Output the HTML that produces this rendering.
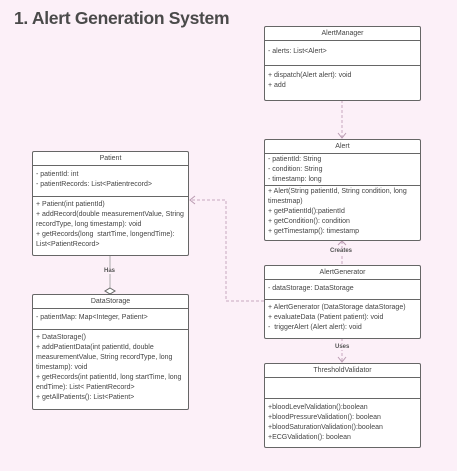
<!DOCTYPE html><html><head><style>
body{margin:0;width:457px;height:471px;background:#fcf0f8;font-family:"Liberation Sans",sans-serif;position:relative;overflow:hidden;color:#444}
.t{position:absolute;left:14px;top:8px;font-size:17.5px;font-weight:bold;color:#4a4a4a;letter-spacing:-0.3px}
.b{position:absolute;background:#fff;border:1px solid #666;border-radius:2px;box-sizing:border-box;font-size:7px;line-height:10px}
.h{text-align:center;border-bottom:1px solid #666;height:13px;line-height:13px}
.s{border-bottom:1px solid #666;padding:1px 3px;box-sizing:border-box}
.m{padding:2px 3px}
svg{position:absolute;left:0;top:0}
.l{position:absolute;font-size:6px;font-weight:bold;color:#555;background:#fcf0f8}
</style></head><body>
<div class="t">1. Alert Generation System</div>
<svg width="457" height="471">
<g stroke="#c8a9c0" fill="none" stroke-dasharray="3,2">
<path d="M342 100V138"/><path d="M342 241V265"/><path d="M342 338V362"/><path d="M264 301H226V200H190"/>
</g>
<g stroke="#b99ab0" fill="none">
<path d="M338 133L342 138L346 133"/><path d="M338 245L342 241L346 245"/><path d="M338 357L342 362L346 357"/><path d="M195 196L190 200L195 204"/>
<path d="M110 256V288" stroke="#aaa"/><path d="M110 288L115 291L110 294L105 291Z" stroke="#666" fill="#fff"/>
</g>
</svg>
<div class="l" style="left:330px;top:248px">Creates</div>
<div class="l" style="left:335px;top:344px">Uses</div>
<div class="l" style="left:104px;top:268px">Has</div>
<div class="b" style="left:264px;top:26px;width:157px;height:75px"><div class="h">AlertManager</div><div class="s" style="height:25px;padding-top:6px">- alerts: List&lt;Alert&gt;</div><div class="m" style="padding-top:5px">+ dispatch(Alert alert): void<br>+ add</div></div>
<div class="b" style="left:264px;top:139px;width:157px;height:102px"><div class="h">Alert</div><div class="s" style="height:32px;line-height:10px;padding-top:1px">- patientId: String<br>- condition: String<br>- timestamp: long</div><div class="m" style="line-height:10px;padding-top:1px">+ Alert(String patientId, String condition, long timestmap)<br>+ getPatientId():patientId<br>+ getCondition(): condition<br>+ getTimestamp(): timestamp</div></div>
<div class="b" style="left:32px;top:151px;width:157px;height:105px"><div class="h">Patient</div><div class="s" style="height:31px;padding-top:4px">- patientId: int<br>- patientRecords: List&lt;Patientrecord&gt;</div><div class="m" style="padding-top:3px">+ Patient(int patientId)<br>+ addRecord(double measurementValue, String recordType, long timestamp): void<br>+ getRecords(long &nbsp;startTime, longendTime): List&lt;PatientRecord&gt;</div></div>
<div class="b" style="left:32px;top:294px;width:157px;height:116px"><div class="h">DataStorage</div><div class="s" style="height:21px;padding-top:4px">- patientMap: Map&lt;Integer, Patient&gt;</div><div class="m" style="padding-top:3px">+ DataStorage()<br>+ addPatientData(int patientId, double measurementValue, String recordType, long timestamp): void<br>+ getRecords(int patientId, long startTime, long endTime): List&lt; PatientRecord&gt;<br>+ getAllPatients(): List&lt;Patient&gt;</div></div>
<div class="b" style="left:264px;top:265px;width:157px;height:74px"><div class="h">AlertGenerator</div><div class="s" style="height:20px;padding-top:4px">- dataStorage: DataStorage</div><div class="m" style="padding-top:3px">+ AlertGenerator (DataStorage dataStorage)<br>+ evaluateData (Patient patient): void<br>- &nbsp;triggerAlert (Alert alert): void</div></div>
<div class="b" style="left:264px;top:363px;width:157px;height:85px"><div class="h">ThresholdValidator</div><div class="s" style="height:21px"></div><div class="m" style="padding-top:4px">+bloodLevelValidation():boolean<br>+bloodPressureValidation(): boolean<br>+bloodSaturationValidation():boolean<br>+ECGValidation(): boolean</div></div>
</body></html>
